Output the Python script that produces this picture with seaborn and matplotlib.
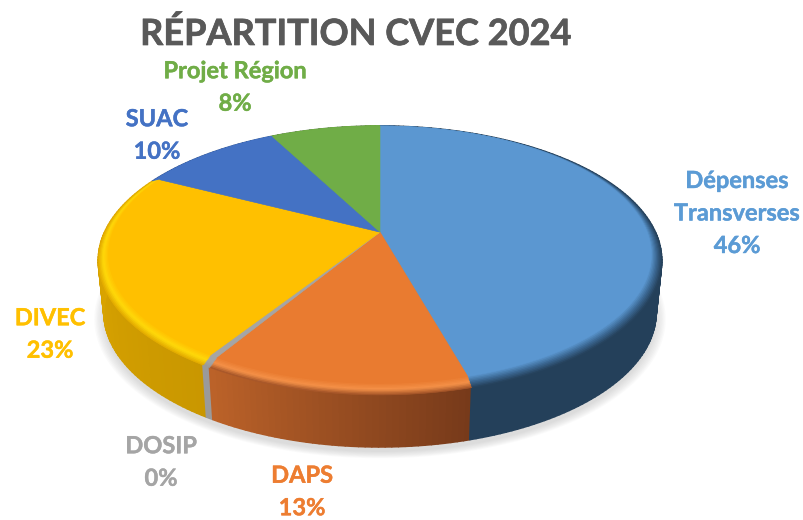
import numpy as np
import matplotlib
matplotlib.use("Agg")
import matplotlib.pyplot as plt
import matplotlib.patheffects as pe
from matplotlib.path import Path
from matplotlib.transforms import Transform
from matplotlib.colors import to_rgb
import seaborn as sns

# ---- data ----
names = ["Dépenses\nTransverses", "DAPS", "DOSIP", "DIVEC", "SUAC", "Projet Région"]
values = [45.6, 13.1, 0.4, 23.4, 9.8, 7.7]
face_colors = ["#5B97D1", "#E97B30", "#A5A5A5", "#FFC000", "#4472C4", "#70AD47"]
text_colors = ["#5B9BD5", "#ED7D31", "#A5A5A5", "#FFC000", "#4472C4", "#70AD47"]
rim_colors = ["#27445F", "#A9582A", "#9A9A9A", "#E5AE00", "#4472C4", "#70AD47"]
glow_colors = ["#3A6690", "#F59148", "#A5A5A5", "#FFD90A", "#4472C4", "#70AD47"]
wall_start = ["#24405A", "#76391A", "#9A9A9A", "#C99700", "#2F5597", "#4E7A32"]
wall_end = ["#24405A", "#BC6329", "#9A9A9A", "#E3AB00", "#2F5597", "#4E7A32"]
title = "RÉPARTITION CVEC 2024"
label_xy = [(737, 213), (302, 491.5), (161, 462), (50, 334), (157, 135), (235, 87)]

sns.set_theme(style="white")
plt.rcParams["font.family"] = ["Lato", "DejaVu Sans"]
palette = sns.color_palette(face_colors)

# projection of the unit disc on the picture
CX, CY, A, B, K = 380.0, 236.0, 277.0, 130.0, 0.182
DEPTH, SHRINK = 52.0, 0.98
BEVEL = 0.03


def project(u, v):
    w = 1 + K * v
    return CX + A * u / w, CY - B * v / w


class Perspective(Transform):
    input_dims = output_dims = 2
    is_separable = False
    has_inverse = False

    def transform_non_affine(self, values):
        pts = np.asarray(values, float)
        x, y = project(pts[:, 0], pts[:, 1])
        return np.column_stack([x, y])

    def transform_path_non_affine(self, path):
        verts = []
        for seg, code in path.iter_bezier():
            if seg.degree == 0:
                continue
            n = 24 if seg.degree > 1 else 2
            verts.extend(seg(np.linspace(0, 1, n)))
        return Path(self.transform_non_affine(np.array(verts)))


fig = plt.figure(figsize=(8.04, 5.2), dpi=100, facecolor="white")
ax = fig.add_axes([0, 0, 1, 1])


def lerp(c1, c2, t):
    a, b = np.array(to_rgb(c1)), np.array(to_rgb(c2))
    return tuple(a + (b - a) * t)


def wall_xy(theta):
    u, v = np.sin(theta), np.cos(theta)
    x0, y0 = project(u, v)
    x1 = CX + (x0 - CX) * SHRINK
    y1 = y0 + DEPTH
    return x0, y0, x1, y1


# soft shadow under the disc
full = np.linspace(0, 2 * np.pi, 240)
_, _, sx, sy = wall_xy(full)
for grow in np.linspace(1.035, 1.0, 8):
    ax.fill(CX + (sx - CX) * grow, (CY + 35) + (sy + 5 - (CY + 35)) * grow,
            color="#808080", alpha=0.035, lw=0, zorder=1)

# side wall, strip by strip
edges = np.cumsum([0] + values) / sum(values) * 2 * np.pi
for i in range(len(values)):
    n = max(2, int((edges[i + 1] - edges[i]) / 0.02))
    th = np.linspace(edges[i], edges[i + 1], n + 1)
    for j in range(n):
        x0, y0, x1, y1 = wall_xy(th[j:j + 2])
        col = lerp(wall_start[i], wall_end[i], (j + 0.5) / n)
        ax.fill([x0[0], x0[1], x1[1], x1[0]], [y0[0], y0[1], y1[1], y1[0]],
                facecolor=col, edgecolor=col, lw=1.2, joinstyle="round", zorder=2 + 0.001 * j)

# top face with its rounded rim, from the outside inwards
persp = Perspective() + ax.transData
steps = np.linspace(0, 1, 9)
for layer, t in enumerate(steps):
    if t < 0.45:
        cols = [lerp(r, g, t / 0.45) for r, g in zip(rim_colors, glow_colors)]
    else:
        cols = [lerp(g, f, (t - 0.45) / 0.55) for g, f in zip(glow_colors, palette)]
    wedges, _ = ax.pie(values, colors=cols, startangle=90, counterclock=False,
                       radius=1 - BEVEL * t, center=(0, BEVEL * t))
    for w in wedges:
        w.set_edgecolor(w.get_facecolor())
        w.set_linewidth(0.4)
        w.set_transform(persp)
        w.set_zorder(3 + layer)

ax.set_aspect("auto")
ax.set_xlim(0, 804)
ax.set_ylim(520, 0)
ax.axis("off")

# texts
ax.text(355.5, 34, title, ha="center", va="center", fontsize=26,
        fontweight="bold", color="#595959", zorder=20,
        path_effects=[pe.withStroke(linewidth=0.5, foreground="#595959")])
for name, val, col, (x, y) in zip(names, values, text_colors, label_xy):
    ax.text(x, y, f"{name}\n{val:.0f}%", ha="center", va="center", fontsize=17,
            fontweight="bold", color=col, linespacing=1.5, zorder=20,
            path_effects=[pe.withStroke(linewidth=0.3, foreground=col)])

fig.savefig("out.png", dpi=100, facecolor="white")
